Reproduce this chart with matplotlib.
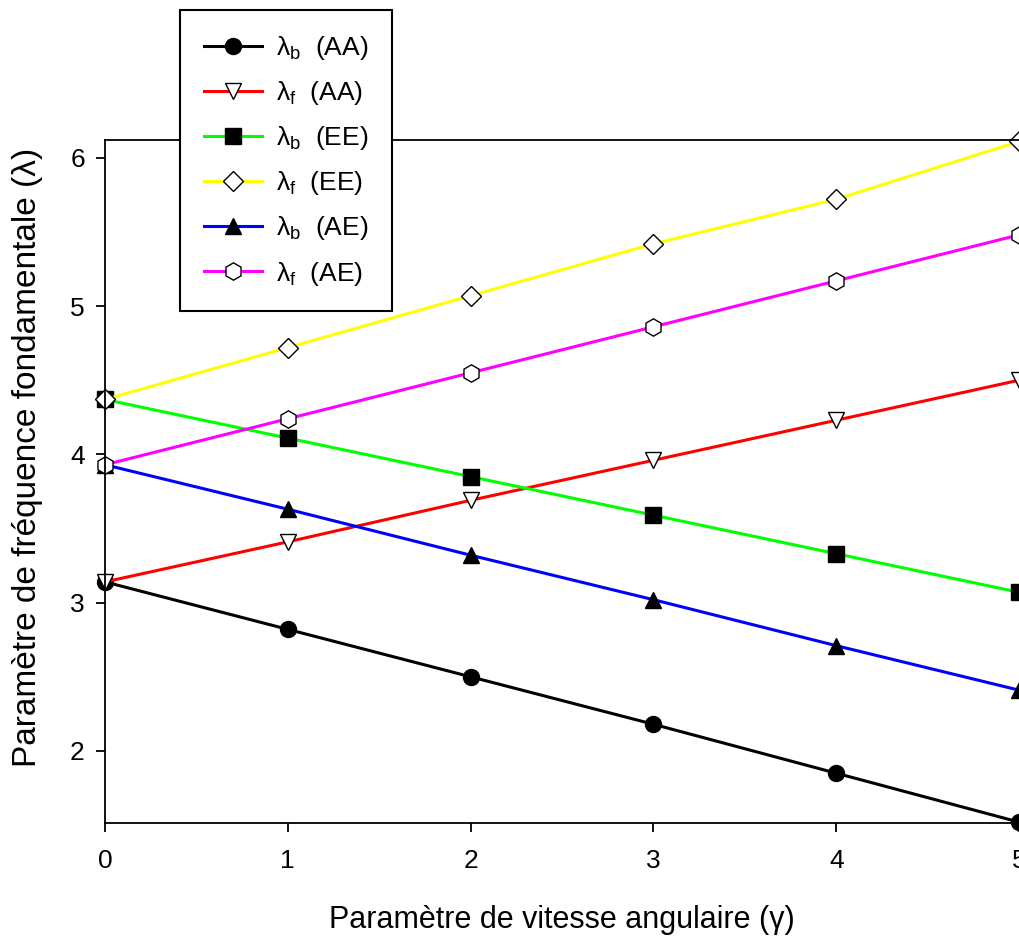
import numpy as np
import matplotlib
matplotlib.use("Agg")
import matplotlib.pyplot as plt

plt.rcParams['font.family'] = ['Liberation Sans', 'DejaVu Sans']
plt.rcParams['mathtext.fontset'] = 'custom'
plt.rcParams['mathtext.rm'] = 'Liberation Sans'
plt.rcParams['mathtext.it'] = 'Liberation Sans'

# Parametre de vitesse angulaire (gamma)
gamma = [0, 1, 2, 3, 4, 5]

# Parametre de frequence fondamentale
lb_aa = [3.14, 2.82, 2.50, 2.18, 1.85, 1.52]
lf_aa = [3.14, 3.41, 3.69, 3.96, 4.23, 4.50]
lb_ee = [4.37, 4.11, 3.85, 3.59, 3.33, 3.07]
lf_ee = [4.37, 4.72, 5.07, 5.42, 5.72, 6.11]
lb_ae = [3.93, 3.63, 3.32, 3.02, 2.71, 2.41]
lf_ae = [3.93, 4.24, 4.55, 4.86, 5.17, 5.48]

labels = [r'$\mathregular{λ_b}$  (AA)', r'$\mathregular{λ_f}$  (AA)',
          r'$\mathregular{λ_b}$  (EE)', r'$\mathregular{λ_f}$  (EE)',
          r'$\mathregular{λ_b}$  (AE)', r'$\mathregular{λ_f}$  (AE)']

fig = plt.figure(figsize=(10.19, 9.38), dpi=100)
ax = fig.add_axes([105 / 1019, 115 / 938, 914 / 1019, 683 / 938])

series = [
    (lb_aa, '#000000', 'o', 'black'),
    (lf_aa, '#ff0000', 'v', 'white'),
    (lb_ee, '#00ff00', 's', 'black'),
    (lf_ee, '#ffff00', 'D', 'white'),
    (lb_ae, '#0000ff', '^', 'black'),
    (lf_ae, '#ff00ff', 'h', 'white'),
]
ms = {'o': 11.5, 'v': 11.5, 's': 11, 'D': 10, '^': 11.5, 'h': 12.5}

handles = []
for (vals, col, mk, fc), lab in zip(series, labels):
    h, = ax.plot(gamma, vals, color=col, lw=2.2, marker=mk, ms=ms[mk],
                 mfc=fc, mec='black', mew=1.0, label=lab, clip_on=False)
    handles.append(h)

ax.set_xlim(0, 5)
ax.set_ylim(1.514, 6.12)
ax.set_xticks([0, 1, 2, 3, 4, 5])
ax.set_yticks([2, 3, 4, 5, 6])
ax.spines['right'].set_visible(False)
for s in ['left', 'bottom', 'top']:
    ax.spines[s].set_linewidth(1.3)
ax.tick_params(direction='out', length=6.5, width=1.3, labelsize=19,
               top=False, right=False)
ax.tick_params(axis='x', pad=12.5)
ax.tick_params(axis='y', pad=8)

ax.set_xlabel('Paramètre de vitesse angulaire (γ)', fontsize=22)
ax.set_ylabel('Paramètre de fréquence fondamentale (λ)', fontsize=24)
ax.xaxis.set_label_coords(0.5, -(905 - 823) / 683, transform=ax.transAxes)
ax.xaxis.label.set_va('top')
ax.yaxis.set_label_coords(-(105 - 12) / 914, (823 - 457) / 683)
ax.yaxis.label.set_va('top')

leg = fig.legend(handles=handles, loc='upper left',
                 bbox_to_anchor=(180 / 1019, 1 - 10 / 938), borderaxespad=0,
                 fontsize=19, frameon=True, fancybox=False, edgecolor='black',
                 framealpha=1, handlelength=2.2, labelspacing=0.65,
                 borderpad=0.9, handletextpad=0.55)
leg.get_frame().set_linewidth(1.5)

fig.savefig('out.png', dpi=100)
